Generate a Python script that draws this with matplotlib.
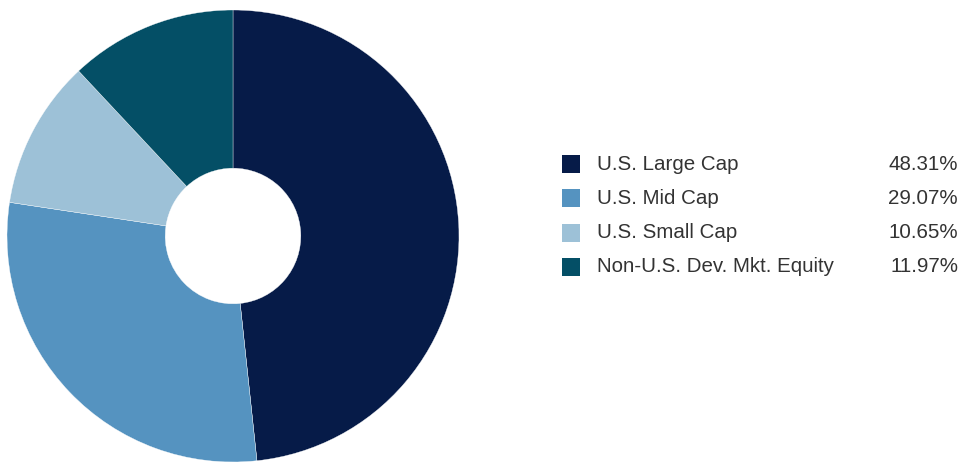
import matplotlib
matplotlib.use("Agg")
import matplotlib.pyplot as plt
from matplotlib.patches import Rectangle

# data
labels = ["U.S. Large Cap", "U.S. Mid Cap", "U.S. Small Cap", "Non-U.S. Dev. Mkt. Equity"]
values = [48.31, 29.07, 10.65, 11.97]
colors = ["#061b48", "#5593c0", "#9dc1d7", "#044f66"]

plt.rcParams['font.family'] = ['Liberation Sans', 'DejaVu Sans']

W, H = 961, 462
fig = plt.figure(figsize=(W/100, H/100), dpi=100)

# donut, pixel box x 7..459, y 10..462 (from top)
ax = fig.add_axes([7/W, 0/H, 452/W, 452/H])
ax.pie(values, colors=colors, startangle=90, counterclock=False,
       radius=1.0, wedgeprops=dict(width=0.7, edgecolor="white", linewidth=0.25))
ax.set_xlim(-1, 1)
ax.set_ylim(-1, 1)
ax.set_aspect("equal")
ax.axis("off")

# legend
row_y = 164   # first row centre, px from top
step = 34.3
for i, (lab, v, c) in enumerate(zip(labels, values, colors)):
    yc = row_y + i*step
    fig.patches.append(Rectangle((562/W, (H - yc - 9)/H), 18/W, 18/H,
                                 transform=fig.transFigure, facecolor=c,
                                 edgecolor="none"))
    fig.text(597/W, (H - yc)/H, lab, fontsize=14.8, color="#333333",
             va="center", ha="left")
    fig.text(958/W, (H - yc)/H, f"{v:.2f}%", fontsize=14.8, color="#333333",
             va="center", ha="right")

fig.savefig("out.png", dpi=100)
